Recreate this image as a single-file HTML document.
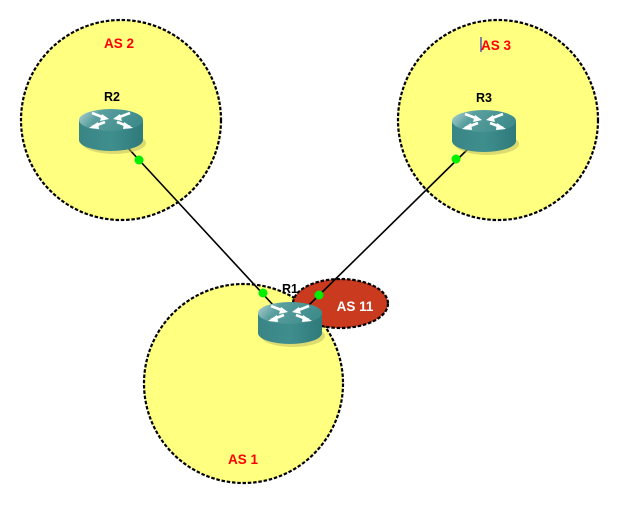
<!DOCTYPE html>
<html><head><meta charset="utf-8"><style>
html,body{margin:0;padding:0;background:#fff;}
svg{display:block;}
text{font-family:"Liberation Sans",Arial,sans-serif;font-weight:bold;}
</style></head><body>
<svg width="619" height="505" viewBox="0 0 619 505" xmlns="http://www.w3.org/2000/svg">
<defs>
<linearGradient id="top" x1="0" y1="0" x2="1" y2="0.3">
<stop offset="0" stop-color="#b9d6d6"/><stop offset="0.35" stop-color="#5a9f9f"/><stop offset="1" stop-color="#3f8c8c"/>
</linearGradient>
<linearGradient id="body" x1="0" y1="0" x2="1" y2="0">
<stop offset="0" stop-color="#3a8585"/><stop offset="0.5" stop-color="#3f8e8e"/><stop offset="1" stop-color="#2f7a7a"/>
</linearGradient>
<g id="router">
<ellipse cx="3" cy="23" rx="32" ry="11" fill="#b8b860" opacity="0.5"/>
<path d="M-32 0 L-32 20 A32 11 0 0 0 32 20 L32 0 Z" fill="url(#body)"/>
<ellipse cx="0" cy="0" rx="32" ry="11" fill="url(#top)"/>
<g stroke="#fff" stroke-width="2.6" fill="none" stroke-linecap="butt">
<path d="M-19 -7 L-6 -2"/>
<path d="M19 -7 L6 -2"/>
<path d="M-6 2 L-19 7"/>
<path d="M6 2 L19 7"/>
</g>
<g fill="#fff">
<path d="M-2 -1 L-9 -6 L-11 1 Z"/>
<path d="M2 -1 L9 -6 L11 1 Z"/>
<path d="M-22 8 L-13 2 L-12 9 Z"/>
<path d="M22 8 L13 2 L12 9 Z"/>
</g>
</g>
</defs>
<g stroke="#000" stroke-width="2.2" stroke-dasharray="3.5 1.8" fill="#ffff80">
<circle cx="121" cy="120" r="100"/>
<circle cx="498" cy="120" r="100"/>
<circle cx="243.5" cy="383.5" r="99.5"/>
</g>
<ellipse cx="340.5" cy="303.5" rx="47.5" ry="24.5" fill="#c93a1f" stroke="#000" stroke-width="2.2" stroke-dasharray="3.5 1.8"/>
<text x="119" y="48" font-size="13.5" fill="#ff0000" text-anchor="middle">AS 2</text>
<text x="496" y="50" font-size="13.5" fill="#ff0000" text-anchor="middle">AS 3</text>
<line x1="481" y1="37" x2="481" y2="52" stroke="#0000cc" stroke-width="1"/>
<text x="243" y="464" font-size="13.5" fill="#ff0000" text-anchor="middle">AS 1</text>
<text x="355" y="311" font-size="13.5" fill="#ffffff" text-anchor="middle">AS 11</text>
<line x1="128" y1="148" x2="274" y2="306" stroke="#000" stroke-width="1.6"/>
<line x1="470" y1="147" x2="308" y2="306" stroke="#000" stroke-width="1.6"/>
<text x="112" y="101" font-size="12.5" fill="#000" text-anchor="middle">R2</text>
<text x="484" y="102" font-size="12.5" fill="#000" text-anchor="middle">R3</text>
<text x="290" y="293" font-size="12.5" fill="#000" text-anchor="middle">R1</text>
<use href="#router" x="111" y="120"/>
<use href="#router" x="484" y="121"/>
<use href="#router" x="290" y="313"/>
<g fill="#00ee00">
<circle cx="139" cy="160" r="4.5"/>
<circle cx="456" cy="159" r="4.5"/>
<circle cx="263" cy="293" r="4.5"/>
<circle cx="319" cy="295" r="4.5"/>
</g>
</svg>
</body></html>
